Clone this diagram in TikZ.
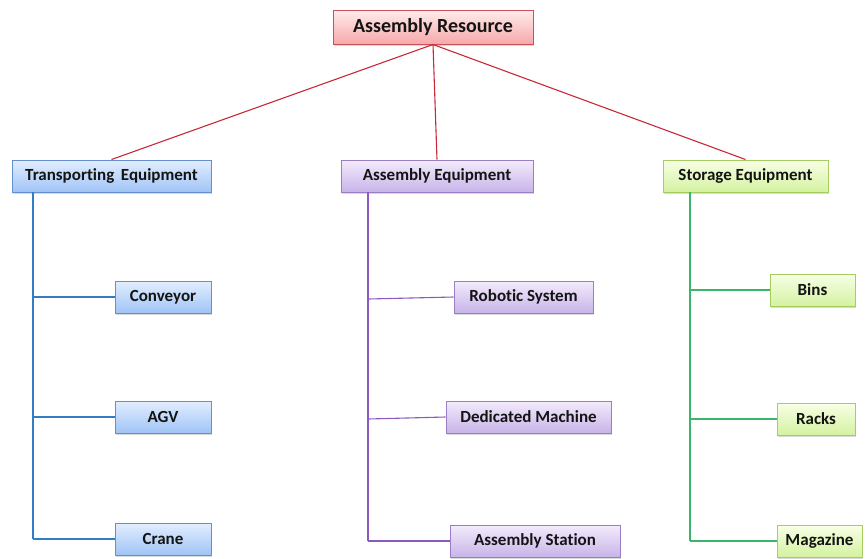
\documentclass[tikz,border=0pt]{standalone}
\usepackage{fontspec}
\setmainfont{Carlito}[Ligatures={NoCommon}]
\usetikzlibrary{shadows}
\definecolor{redline}{RGB}{200,40,55}
\definecolor{blueline}{RGB}{50,125,195}
\definecolor{purpline}{RGB}{140,90,190}
\definecolor{greenline}{RGB}{60,180,105}
\tikzset{
  box/.style={draw, line width=1pt, minimum height=32pt, inner sep=0pt,
    font=\fontsize{17}{20}\selectfont\bfseries, text=black!92,
    drop shadow={shadow xshift=1.2pt, shadow yshift=-1.5pt, opacity=0.3}},
  rootbox/.style={box, draw={rgb,255:red,205;green,80;blue,85},
    top color={rgb,255:red,255;green,236;blue,236},
    bottom color={rgb,255:red,246;green,168;blue,170},
    minimum height=34pt, font=\fontsize{20}{24}\selectfont\bfseries},
  bluebox/.style={box, draw={rgb,255:red,100;green,145;blue,205},
    top color={rgb,255:red,226;green,238;blue,255},
    bottom color={rgb,255:red,160;green,196;blue,246}},
  purpbox/.style={box, draw={rgb,255:red,155;green,125;blue,195},
    top color={rgb,255:red,243;green,235;blue,252},
    bottom color={rgb,255:red,200;green,180;blue,232}},
  greenbox/.style={box, draw={rgb,255:red,165;green,205;blue,95},
    top color={rgb,255:red,248;green,255;blue,230},
    bottom color={rgb,255:red,212;green,242;blue,160}},
  rootlink/.style={draw=redline, line width=1.1pt},
  bluelink/.style={draw=blueline, line width=1.1pt},
  purplink/.style={draw=purpline, line width=1.1pt},
  greenlink/.style={draw=greenline, line width=1.1pt}
}
\begin{document}
\begin{tikzpicture}[x=1pt,y=-1pt]
\useasboundingbox (0,0) rectangle (865,558);

% top level
\node[rootbox, minimum width=200pt] (root) at (433,27) {Assembly Resource};

% second level
\node[bluebox, minimum width=199pt] (trans) at (111.5,176) {Transporting\ \,Equipment};
\node[purpbox, minimum width=192pt] (asm) at (437,176) {Assembly Equipment};
\node[greenbox, minimum width=165pt] (stor) at (745.5,176) {Storage Equipment};

% transporting equipment children
\node[bluebox, minimum width=96pt] (conv) at (163,297) {Conveyor};
\node[bluebox, minimum width=96pt] (agv) at (163,417) {AGV};
\node[bluebox, minimum width=96pt] (crane) at (163,539) {Crane};

% assembly equipment children
\node[purpbox, minimum width=139pt] (robot) at (523.5,297) {Robotic System};
\node[purpbox, minimum width=165pt] (dedic) at (528.5,417) {Dedicated Machine};
\node[purpbox, minimum width=170pt] (station) at (535,541) {Assembly Station};

% storage equipment children
\node[greenbox, minimum width=85pt] (bins) at (812.5,290) {Bins};
\node[greenbox, minimum width=78pt] (racks) at (816,419) {Racks};
\node[greenbox, minimum width=85pt] (mag) at (819.5,541) {Magazine};

% trunk coordinates
\coordinate (tA) at (33,192);
\coordinate (tB) at (33,539);
\coordinate (aA) at (368,192);
\coordinate (aB) at (368,541);
\coordinate (sA) at (690,192);
\coordinate (sB) at (690,541);

% links from the root
\draw[rootlink] (root.south) -- (trans.north);
\draw[rootlink] (root.south) -- (asm.north);
\draw[rootlink] (root.south) -- (stor.north);

% transporting branch
\draw[bluelink] (tA) -- (tB);
\draw[bluelink] (33,297) -- (conv.west);
\draw[bluelink] (33,417) -- (agv.west);
\draw[bluelink] (tB) -- (crane.west);

% assembly branch
\draw[purplink] (aA) -- (aB);
\draw[purplink] (368,299) -- (robot.west);
\draw[purplink] (368,419) -- (dedic.west);
\draw[purplink] (aB) -- (station.west);

% storage branch
\draw[greenlink] (sA) -- (sB);
\draw[greenlink] (690,290) -- (bins.west);
\draw[greenlink] (690,419) -- (racks.west);
\draw[greenlink] (sB) -- (mag.west);
\end{tikzpicture}
\end{document}
